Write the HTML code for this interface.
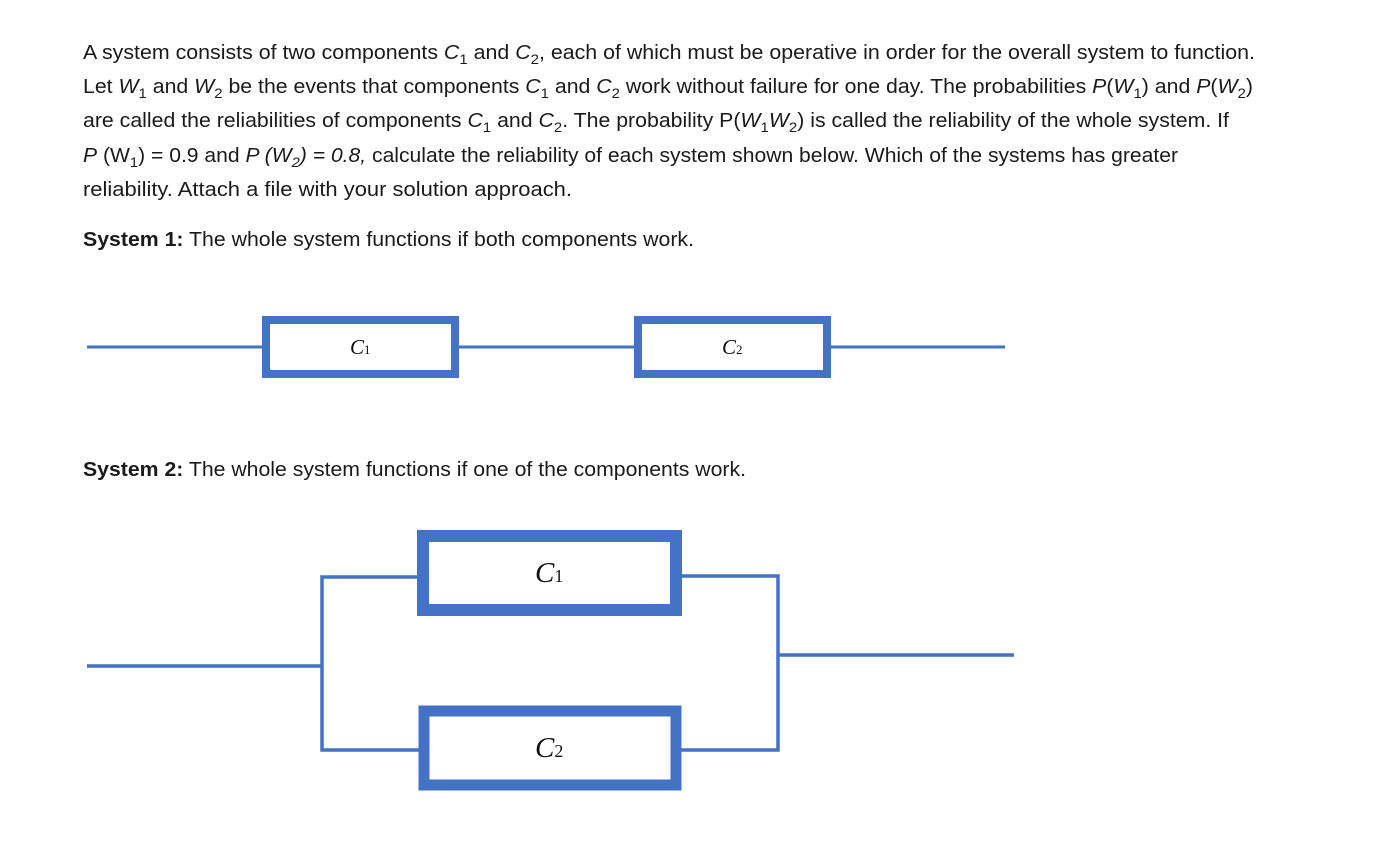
<!DOCTYPE html>
<html><head><meta charset="utf-8"><style>
body{margin:0;background:#fff;}
svg{display:block}
text{font-family:"Liberation Sans",sans-serif;font-size:20px;fill:#1a1a1a}
.s{font-size:14px}
</style></head><body>
<svg width="1390" height="846" viewBox="0 0 1390 846" xmlns="http://www.w3.org/2000/svg">
<text x="83" y="59" textLength="1172" lengthAdjust="spacingAndGlyphs">A system consists of two components <tspan font-style="italic">C</tspan><tspan class="s" dy="5">1</tspan><tspan dy="-5"> and </tspan><tspan font-style="italic">C</tspan><tspan class="s" dy="5">2</tspan><tspan dy="-5">, each of which must be operative in order for the overall system to function.</tspan></text>
<text x="83" y="93" textLength="1170" lengthAdjust="spacingAndGlyphs">Let <tspan font-style="italic">W</tspan><tspan class="s" dy="5">1</tspan><tspan dy="-5"> and </tspan><tspan font-style="italic">W</tspan><tspan class="s" dy="5">2</tspan><tspan dy="-5"> be the events that components </tspan><tspan font-style="italic">C</tspan><tspan class="s" dy="5">1</tspan><tspan dy="-5"> and </tspan><tspan font-style="italic">C</tspan><tspan class="s" dy="5">2</tspan><tspan dy="-5"> work without failure for one day. The probabilities </tspan><tspan font-style="italic">P</tspan>(<tspan font-style="italic">W</tspan><tspan class="s" dy="5">1</tspan><tspan dy="-5">) and </tspan><tspan font-style="italic">P</tspan>(<tspan font-style="italic">W</tspan><tspan class="s" dy="5">2</tspan><tspan dy="-5">)</tspan></text>
<text x="83" y="127" textLength="1146" lengthAdjust="spacingAndGlyphs">are called the reliabilities of components <tspan font-style="italic">C</tspan><tspan class="s" dy="5">1</tspan><tspan dy="-5"> and </tspan><tspan font-style="italic">C</tspan><tspan class="s" dy="5">2</tspan><tspan dy="-5">. The probability P(</tspan><tspan font-style="italic">W</tspan><tspan class="s" dy="5">1</tspan><tspan dy="-5" font-style="italic">W</tspan><tspan class="s" dy="5">2</tspan><tspan dy="-5">) is called the reliability of the whole system. If</tspan></text>
<text x="83" y="162" textLength="1095" lengthAdjust="spacingAndGlyphs"><tspan font-style="italic">P</tspan> (W<tspan class="s" dy="5">1</tspan><tspan dy="-5">) = 0.9 and   </tspan><tspan font-style="italic">P (W</tspan><tspan class="s" dy="5" font-style="italic">2</tspan><tspan dy="-5" font-style="italic">) = 0.8, </tspan>calculate the reliability of each system shown below. Which of the systems has greater</text>
<text x="83" y="196" textLength="489" lengthAdjust="spacingAndGlyphs">reliability.  Attach a file with your solution approach.</text>
<text x="83" y="246" textLength="611" lengthAdjust="spacingAndGlyphs"><tspan font-weight="bold">System 1:</tspan> The whole system functions if both components work.</text>
<text x="83" y="476" textLength="663" lengthAdjust="spacingAndGlyphs"><tspan font-weight="bold">System 2:</tspan> The whole system functions if one of the components work.</text>

<g stroke="#4472c4" fill="none">
<line x1="87" y1="347" x2="1005" y2="347" stroke-width="3"/>
<rect x="266" y="320" width="189" height="54" fill="#fff" stroke-width="8"/>
<rect x="638" y="320" width="189" height="54" fill="#fff" stroke-width="8"/>
<polyline points="87,666 322,666" stroke-width="3.5"/>
<polyline points="420,577 322,577 322,750 420,750" stroke-width="3.5"/>
<polyline points="680,576 778,576 778,750 680,750" stroke-width="3.5"/>
<line x1="778" y1="655" x2="1014" y2="655" stroke-width="3.5"/>
<rect x="423" y="536" width="253" height="74" fill="#fff" stroke-width="12"/>
<rect x="424" y="711" width="252" height="74" fill="#fff" stroke-width="11"/>
</g>
<text x="350" y="354" style="font-family:'Liberation Serif',serif;font-size:21px;font-style:italic;fill:#111">C<tspan style="font-style:normal;font-size:13px">1</tspan></text>
<text x="722" y="354" style="font-family:'Liberation Serif',serif;font-size:21px;font-style:italic;fill:#111">C<tspan style="font-style:normal;font-size:13px">2</tspan></text>
<text x="535" y="582" style="font-family:'Liberation Serif',serif;font-size:29px;font-style:italic;fill:#111">C<tspan style="font-style:normal;font-size:18px">1</tspan></text>
<text x="535" y="757" style="font-family:'Liberation Serif',serif;font-size:29px;font-style:italic;fill:#111">C<tspan style="font-style:normal;font-size:18px">2</tspan></text>
</svg>
</body></html>
